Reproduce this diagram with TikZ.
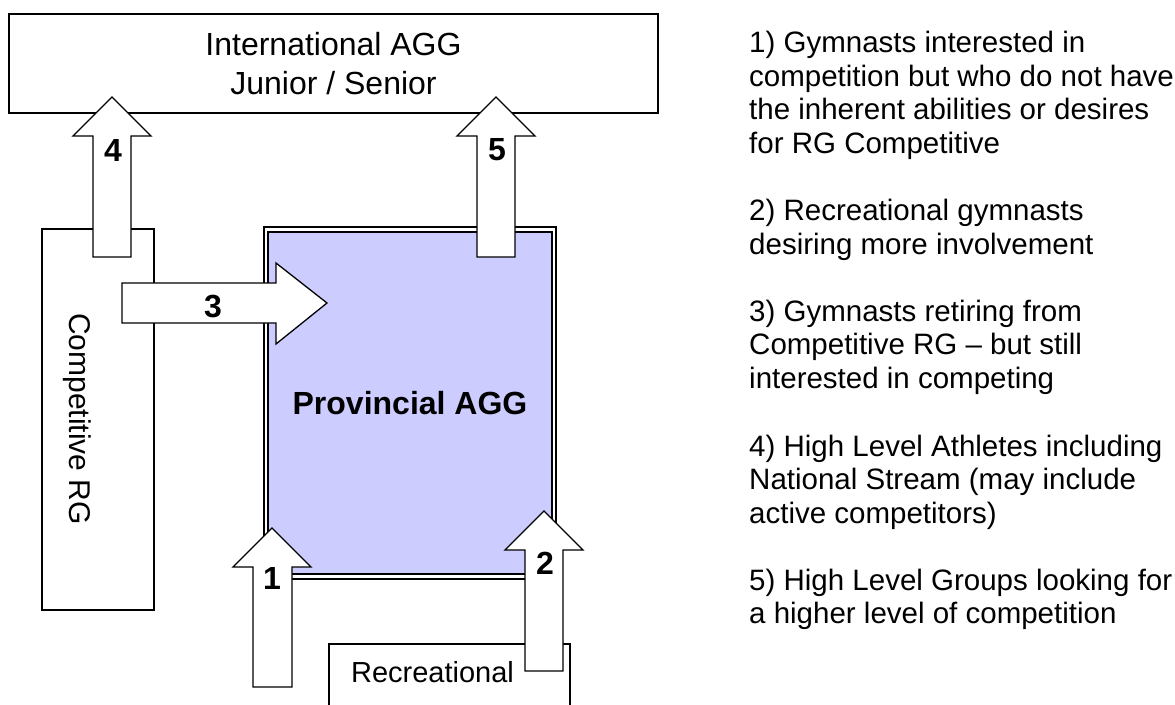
\documentclass[tikz,border=0pt]{standalone}
\usepackage{fontspec}
\setmainfont{Liberation Sans}
\usetikzlibrary{scopes}
\definecolor{provfill}{HTML}{CCCCFF}
\begin{document}
\begin{tikzpicture}[
    x=1pt,y=-1pt,
    box/.style={draw=black,fill=white,line width=1.2pt,inner sep=0pt},
    blockarrow/.style={draw=black,fill=white,line width=1.3pt,line join=miter},
    num/.style={font=\bfseries\fontsize{32}{32}\selectfont,inner sep=0pt},
    note/.style={font=\fontsize{29.5}{33.6}\selectfont,align=left,anchor=base west,inner sep=0pt}
]
    \useasboundingbox (0,0) rectangle (1175,704);
    % boxes
    \node[box,minimum width=649pt,minimum height=99pt,align=center,
          font=\fontsize{32}{39}\selectfont] (intl) at (333.5,63.5) {International AGG\\Junior / Senior};
    \node[box,minimum width=112pt,minimum height=381pt] (comp) at (98,419.5) {};
    \node[rotate=-90,font=\fontsize{30}{36}\selectfont] (comptext) at (77,419) {Competitive RG};
    \node[draw=black,fill=provfill,line width=2pt,double,double distance=2.5pt,
          minimum width=288pt,minimum height=347pt,
          font=\bfseries\fontsize{32}{38}\selectfont] (prov) at (410,403) {Provincial AGG};
    \node[box,minimum width=241pt,minimum height=76pt] (rec) at (449.5,682) {};
    \node[font=\fontsize{29}{34}\selectfont] (rectext) at (432.5,672) {Recreational};
    % block arrows
    {[blockarrow]
        \filldraw (93,257) -- (93,136) -- (73,136) -- (112,97) -- (151,136) -- (131,136) -- (131,257) -- cycle;
        \filldraw (477,257) -- (477,136) -- (457,136) -- (496,97) -- (535,136) -- (515,136) -- (515,257) -- cycle;
        \filldraw (122,283) -- (276,283) -- (276,263) -- (327,303) -- (276,344) -- (276,323) -- (122,323) -- cycle;
        \filldraw (253,687) -- (253,567) -- (233,567) -- (272,528) -- (311,567) -- (292,567) -- (292,687) -- cycle;
        \filldraw (525,671) -- (525,550) -- (505,550) -- (544,511) -- (583,550) -- (563,550) -- (563,671) -- cycle;
    }
    \node[num] (n1) at (272,578) {1};
    \node[num] (n2) at (545,563) {2};
    \node[num] (n3) at (213,307) {3};
    \node[num] (n4) at (113,150) {4};
    \node[num] (n5) at (497,150) {5};
    % notes (anchored at the baseline of their last line)
    \node[note] (note1) at (749,153.3) {1) Gymnasts interested in\\competition but who do not have\\the inherent abilities or desires\\for RG Competitive};
    \node[note] (note2) at (749,254.1) {2) Recreational gymnasts\\desiring more involvement};
    \node[note] (note3) at (749,388.5) {3) Gymnasts retiring from\\Competitive RG -- but still\\interested in competing};
    \node[note] (note4) at (749,523.2) {4) High Level Athletes including\\National Stream (may include\\active competitors)};
    \node[note] (note5) at (749,623.6) {5) High Level Groups looking for\\a higher level of competition};
\end{tikzpicture}
\end{document}
